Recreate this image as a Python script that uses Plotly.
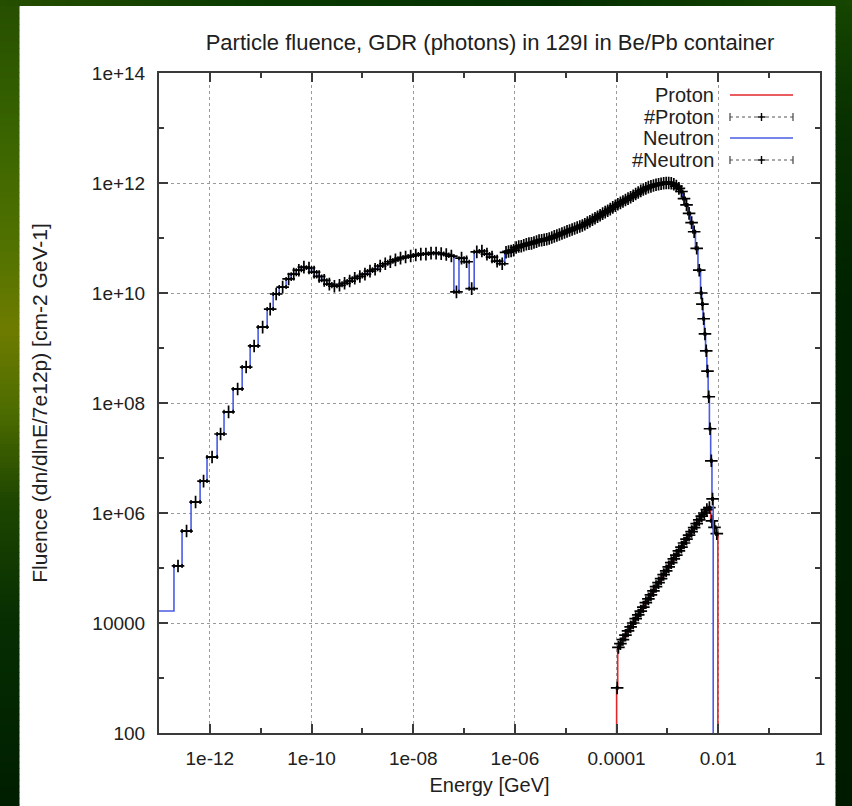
import math
import plotly.graph_objects as go

# ---------------- data ----------------
# Neutron fluence histogram: bin edges [GeV] and fluence per bin
n_edges = [
    1.0e-13, 1.97e-13, 2.84e-13, 4.27e-13, 6.43e-13, 8.8e-13, 1.39e-12, 1.9e-12,
    2.87e-12, 4.32e-12, 6.2e-12, 8.9e-12, 1.34e-11, 1.76e-11, 2.31e-11,
    3.16e-11, 3.98e-11, 5.01e-11, 6.31e-11, 7.94e-11,
    1.0e-10, 1.26e-10, 1.58e-10, 2.0e-10, 2.51e-10, 3.16e-10, 3.98e-10, 5.01e-10, 6.31e-10, 7.94e-10,
    1.0e-9, 1.26e-9, 1.58e-9, 2.0e-9, 2.51e-9, 3.16e-9, 3.98e-9, 5.01e-9, 6.31e-9, 7.94e-9,
    1.0e-8, 1.26e-8, 1.58e-8, 2.0e-8, 2.51e-8, 3.16e-8, 3.98e-8, 5.01e-8, 6.31e-8, 7.94e-8,
    1.0e-7, 1.26e-7, 1.58e-7, 2.0e-7, 2.51e-7, 3.16e-7, 3.98e-7, 5.01e-7,
    6.31e-7, 7.08e-7, 7.94e-7, 8.91e-7,
    1.0e-6, 1.12e-6, 1.26e-6, 1.41e-6, 1.58e-6, 1.78e-6, 2.0e-6, 2.24e-6, 2.51e-6, 2.82e-6,
    3.16e-6, 3.55e-6, 3.98e-6, 4.47e-6, 5.01e-6, 5.62e-6, 6.31e-6, 7.08e-6, 7.94e-6, 8.91e-6,
    1.0e-5, 1.12e-5, 1.26e-5, 1.41e-5, 1.58e-5, 1.78e-5, 2.0e-5, 2.24e-5, 2.51e-5, 2.82e-5,
    3.16e-5, 3.55e-5, 3.98e-5, 4.47e-5, 5.01e-5, 5.62e-5, 6.31e-5, 7.08e-5, 7.94e-5, 8.91e-5,
    1.0e-4, 1.12e-4, 1.26e-4, 1.41e-4, 1.58e-4, 1.78e-4, 2.0e-4, 2.24e-4, 2.51e-4, 2.82e-4,
    3.16e-4, 3.55e-4, 3.98e-4, 4.47e-4, 5.01e-4, 5.62e-4, 6.31e-4, 7.08e-4, 7.94e-4, 8.91e-4,
    1.0e-3, 1.12e-3, 1.26e-3, 1.41e-3, 1.58e-3, 1.78e-3,
    2.0e-3, 2.24e-3, 2.51e-3, 2.82e-3, 3.16e-3, 3.55e-3, 3.98e-3,
    4.47e-3, 4.73e-3, 5.01e-3, 5.31e-3, 5.62e-3, 5.96e-3, 6.31e-3, 6.68e-3, 7.08e-3, 7.50e-3,
    7.94e-3,
]
n_fluence = [
    1.65e4, 1.09e5, 4.7e5, 1.58e6, 3.8e6, 1.04e7, 2.73e7, 6.9e7,
    1.8e8, 4.5e8, 1.09e9, 2.4e9, 5.1e9, 9.6e9, 1.28e10,
    1.8e10, 2.2e10, 2.6e10, 2.95e10, 2.85e10,
    2.4e10, 2.0e10, 1.7e10, 1.45e10, 1.33e10, 1.38e10, 1.5e10, 1.65e10, 1.85e10, 2.0e10,
    2.2e10, 2.5e10, 2.7e10, 3.1e10, 3.4e10, 3.7e10, 4.0e10, 4.3e10, 4.5e10, 4.7e10,
    4.9e10, 5.1e10, 5.1e10, 5.3e10, 5.3e10, 5.2e10, 5.0e10, 4.7e10, 1.05e10, 4.3e10,
    3.7e10, 1.2e10, 5.6e10, 5.8e10, 5.1e10, 4.5e10, 3.8e10, 3.4e10,
    5.5e10, 5.7e10, 5.8e10, 6.0e10,
    6.7e10, 7.0e10, 7.1e10, 7.4e10, 7.7e10, 7.9e10, 8.0e10, 8.3e10, 8.6e10, 9.0e10,
    9.1e10, 9.3e10, 9.5e10, 9.8e10, 1.02e11, 1.07e11, 1.11e11, 1.16e11, 1.21e11, 1.26e11,
    1.32e11, 1.37e11, 1.43e11, 1.49e11, 1.55e11, 1.62e11, 1.69e11, 1.78e11, 1.9e11, 2.02e11,
    2.15e11, 2.28e11, 2.43e11, 2.6e11, 2.78e11, 2.95e11, 3.12e11, 3.35e11, 3.6e11, 3.85e11,
    4.1e11, 4.35e11, 4.6e11, 4.9e11, 5.2e11, 5.5e11, 5.85e11, 6.3e11, 6.7e11, 7.2e11,
    7.6e11, 8.0e11, 8.4e11, 8.7e11, 9.0e11, 9.3e11, 9.5e11, 9.7e11, 9.9e11, 1.0e12,
    1.0e12, 9.9e11, 9.5e11, 8.8e11, 8.0e11, 7.0e11,
    5.2e11, 4.0e11, 2.8e11, 1.9e11, 1.3e11, 6.5e10, 2.6e10,
    1.0e10, 6.3e9, 3.4e9, 1.8e9, 8.9e8, 3.8e8, 1.3e8, 3.4e7, 8.9e6, 1.8e6,
]

# Proton fluence histogram
p_edges = [
    1.0e-4, 1.05e-4, 1.12e-4, 1.26e-4, 1.41e-4, 1.58e-4, 1.78e-4, 2.0e-4, 2.24e-4, 2.51e-4,
    2.82e-4, 3.16e-4, 3.55e-4, 3.98e-4, 4.47e-4, 5.01e-4, 5.62e-4, 6.31e-4, 7.08e-4, 7.94e-4,
    8.91e-4, 1.0e-3, 1.12e-3, 1.26e-3, 1.41e-3, 1.58e-3, 1.78e-3, 2.0e-3, 2.24e-3, 2.51e-3,
    2.82e-3, 3.16e-3, 3.55e-3, 3.98e-3, 4.47e-3, 5.01e-3, 5.62e-3, 6.31e-3, 7.08e-3, 7.94e-3,
    8.91e-3, 9.8e-3,
]
p_fluence = [
    6.6e2, 3.6e3, 4.2e3, 5.0e3, 6.0e3, 7.2e3, 8.5e3, 1.0e4, 1.2e4, 1.4e4,
    1.65e4, 1.95e4, 2.35e4, 2.75e4, 3.25e4, 3.85e4, 4.6e4, 5.4e4, 6.4e4, 7.6e4,
    8.9e4, 1.05e5, 1.25e5, 1.47e5, 1.72e5, 2.05e5, 2.4e5, 2.85e5, 3.35e5, 3.95e5,
    4.6e5, 5.4e5, 6.4e5, 7.5e5, 8.8e5, 1.0e6, 1.15e6, 1.25e6, 7.2e5, 5.5e5,
    4.2e5,
]
hist_floor = 1e-3  # empty bins (below the visible range)

# Axis ticks
x_major = [1e-12, 1e-10, 1e-8, 1e-6, 1e-4, 1e-2, 1]
x_major_text = ["1e-12", "1e-10", "1e-08", "1e-06", "0.0001", "0.01", "1"]
x_minor = [1e-13, 1e-11, 1e-9, 1e-7, 1e-5, 1e-3, 1e-1]
y_major = [1e2, 1e4, 1e6, 1e8, 1e10, 1e12, 1e14]
y_major_text = ["100", "10000", "1e+06", "1e+08", "1e+10", "1e+12", "1e+14"]
y_minor = [1e3, 1e5, 1e7, 1e9, 1e11, 1e13]

legend_names = ["Proton", "#Proton", "Neutron", "#Neutron"]

# ---------------- layout geometry / style ----------------
W, H = 852, 806
ML, MR, MT, MB = 159, 32, 73, 73
PW, PH = W - ML - MR, H - MT - MB
FONT = "Liberation Sans, Arial, Helvetica, sans-serif"
TXT = "#202020"
RED = "#e2262a"
BLUE = "#4a5ce2"


def px(x):
    return (x - ML) / PW


def py(y):
    return (H - MB - y) / PH


def step_xy(edges, vals, close_left):
    xs, ys = [], []
    if close_left:
        xs.append(edges[0]); ys.append(hist_floor)
    for i, v in enumerate(vals):
        xs += [edges[i], edges[i + 1]]
        ys += [v, v]
    xs.append(edges[-1]); ys.append(hist_floor)
    return xs, ys


def points(edges, vals, start=0):
    cx, ex_p, ex_m, yy = [], [], [], []
    for i in range(start, len(vals)):
        lo, hi = edges[i], edges[i + 1]
        c = math.sqrt(lo * hi)
        cx.append(c); ex_p.append(hi - c); ex_m.append(c - lo); yy.append(vals[i])
    return cx, yy, ex_p, ex_m


fig = go.Figure()

mk = dict(symbol="cross-thin", size=9, color="black", line=dict(color="black", width=1.7))
eb = dict(type="data", symmetric=False, color="black", thickness=1.5, width=2)

# Proton histogram
xs, ys = step_xy(p_edges, p_fluence, True)
fig.add_trace(go.Scatter(x=xs, y=ys, mode="lines", name=legend_names[0],
                         line=dict(color=RED, width=1.6), hoverinfo="skip"))
# #Proton points
cx, yy, ep, em = points(p_edges, p_fluence)
fig.add_trace(go.Scatter(x=cx, y=yy, mode="markers", name=legend_names[1], marker=mk,
                         error_x=dict(eb, array=ep, arrayminus=em)))
# Neutron histogram
xs, ys = step_xy(n_edges, n_fluence, False)
fig.add_trace(go.Scatter(x=xs, y=ys, mode="lines", name=legend_names[2],
                         line=dict(color=BLUE, width=1.6), hoverinfo="skip"))
# #Neutron points
cx, yy, ep, em = points(n_edges, n_fluence, start=1)
fig.add_trace(go.Scatter(x=cx, y=yy, mode="markers", name=legend_names[3], marker=mk,
                         error_x=dict(eb, array=ep, arrayminus=em)))

# ---------------- decorations: green gradient frame ----------------
shapes = []


def lerp_color(stops, t):
    for (t0, c0), (t1, c1) in zip(stops[:-1], stops[1:]):
        if t0 <= t <= t1:
            f = (t - t0) / (t1 - t0) if t1 > t0 else 0
            return "rgb(%d,%d,%d)" % tuple(round(a + (b - a) * f) for a, b in zip(c0, c1))
    return "rgb(%d,%d,%d)" % stops[-1][1]


left_stops = [(0, (38, 78, 0)), (120, (55, 98, 0)), (250, (82, 114, 0)), (330, (110, 124, 0)),
              (410, (78, 108, 0)), (500, (30, 70, 0)), (620, (6, 46, 2)), (806, (0, 30, 0))]
right_stops = [(0, (22, 70, 0)), (120, (8, 48, 0)), (300, (0, 34, 0)), (806, (0, 26, 0))]
top_stops = [(0, (38, 78, 0)), (250, (10, 58, 0)), (550, (4, 46, 0)), (852, (22, 70, 0))]

step = 6
for y0 in range(0, H, step):
    c = lerp_color(left_stops, y0 + step / 2)
    shapes.append(dict(type="rect", xref="paper", yref="paper", layer="below",
                       x0=px(0), x1=px(19.5), y0=py(y0), y1=py(y0 + step + 0.5),
                       fillcolor=c, line=dict(width=0)))
    c = lerp_color(right_stops, y0 + step / 2)
    shapes.append(dict(type="rect", xref="paper", yref="paper", layer="below",
                       x0=px(835.5), x1=px(W), y0=py(y0), y1=py(y0 + step + 0.5),
                       fillcolor=c, line=dict(width=0)))
for x0 in range(0, W, step):
    c = lerp_color(top_stops, x0 + step / 2)
    shapes.append(dict(type="rect", xref="paper", yref="paper", layer="below",
                       x0=px(x0), x1=px(x0 + step + 0.5), y0=py(0), y1=py(6),
                       fillcolor=c, line=dict(width=0)))

# white mask behind the key (hides grid there)
shapes.append(dict(type="rect", xref="paper", yref="paper", layer="between",
                   x0=px(622), x1=px(800), y0=py(84), y1=py(170),
                   fillcolor="white", line=dict(width=0)))

# ---------------- manual gnuplot-style key ----------------
annotations = []
rows = [95, 117, 138, 160]
kx0, kx1, ktext = 730, 793, 716
for name, ry in zip(legend_names, rows):
    annotations.append(dict(xref="paper", yref="paper", x=px(ktext), y=py(ry),
                            xanchor="right", yanchor="middle", text=name, showarrow=False,
                            font=dict(family=FONT, size=20, color=TXT)))
for ry, col in [(rows[0], RED), (rows[2], BLUE)]:
    shapes.append(dict(type="line", xref="paper", yref="paper", x0=px(kx0), x1=px(kx1),
                       y0=py(ry), y1=py(ry), line=dict(color=col, width=1.6)))
for ry in (rows[1], rows[3]):
    shapes.append(dict(type="line", xref="paper", yref="paper", x0=px(kx0), x1=px(kx1),
                       y0=py(ry), y1=py(ry), line=dict(color="#555555", width=1.2, dash="dot")))
    for xx in (kx0, kx1):
        shapes.append(dict(type="line", xref="paper", yref="paper", x0=px(xx), x1=px(xx),
                           y0=py(ry - 4), y1=py(ry + 4), line=dict(color="#444444", width=1.2)))
    cxk = (kx0 + kx1) / 2
    shapes.append(dict(type="line", xref="paper", yref="paper", x0=px(cxk - 4), x1=px(cxk + 4),
                       y0=py(ry), y1=py(ry), line=dict(color="black", width=1.4)))
    shapes.append(dict(type="line", xref="paper", yref="paper", x0=px(cxk), x1=px(cxk),
                       y0=py(ry - 4), y1=py(ry + 4), line=dict(color="black", width=1.4)))

axis_common = dict(
    type="log", showline=True, linecolor="#3a3a3a", linewidth=2, mirror="allticks",
    ticks="inside", ticklen=9, tickwidth=1.5, tickcolor="#3a3a3a", tickmode="array",
    showgrid=True, gridcolor="#9a9a9a", gridwidth=1, griddash="dot", zeroline=False,
    tickfont=dict(family=FONT, size=19, color=TXT), automargin=False,
)

fig.update_layout(
    width=W, height=H,
    margin=dict(l=ML, r=MR, t=MT, b=MB, pad=0),
    paper_bgcolor="white", plot_bgcolor="white",
    showlegend=False,
    title=dict(text="Particle fluence, GDR (photons) in 129I in Be/Pb container",
               x=px(490), xref="paper", xanchor="center",
               y=1 - 42 / H, yref="container", yanchor="middle",
               font=dict(family=FONT, size=22, color=TXT)),
    xaxis=dict(axis_common, range=[-13, 0], tickvals=x_major, ticktext=x_major_text,
               ticklabelstandoff=7,
               minor=dict(tickvals=x_minor, ticks="inside", ticklen=5, tickwidth=1.5,
                          tickcolor="#3a3a3a", showgrid=False),
               title=dict(text="Energy [GeV]", standoff=10,
                          font=dict(family=FONT, size=20, color=TXT))),
    yaxis=dict(axis_common, range=[2, 14], tickvals=y_major, ticktext=y_major_text,
               ticklabelstandoff=8,
               minor=dict(tickvals=y_minor, ticks="inside", ticklen=5, tickwidth=1.5,
                          tickcolor="#3a3a3a", showgrid=False),
               title=dict(text="Fluence (dn/dlnE/7e12p) [cm-2 GeV-1]", standoff=38,
                          font=dict(family=FONT, size=21, color=TXT))),
    shapes=shapes,
    annotations=annotations,
)

fig.write_html("out.html")
